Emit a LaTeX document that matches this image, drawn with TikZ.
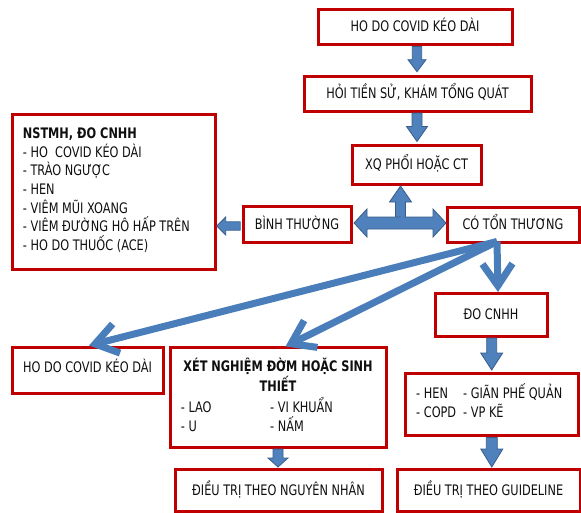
\documentclass[tikz,border=0pt]{standalone}
\usepackage{fontspec}
\setmainfont{DejaVu Sans}[FakeStretch=0.78]
\usetikzlibrary{calc,arrows.meta}
\definecolor{bred}{RGB}{192,0,0}
\definecolor{ablue}{RGB}{79,129,189}
\definecolor{adark}{RGB}{56,93,138}
\definecolor{lblue}{RGB}{74,126,187}
\definecolor{tcol}{RGB}{15,15,15}
\begin{document}
\begin{tikzpicture}[x=1pt,y=-1pt,
  every node/.style={font=\fontsize{14.5}{18.7}\selectfont, text=tcol},
  bfont/.style={font=\fontsize{14.5}{18.7}\selectfont\bfseries},
  box/.style={draw=bred, line width=3pt, fill=white, rectangle, inner sep=0pt,
    text height=10.5pt, text depth=0pt},
  txt/.style={inner sep=0pt, text height=10.5pt, text depth=0pt, anchor=west},
  downblk/.style n args={3}{draw=adark, fill=ablue, line width=0.8pt, to path={
    let \p1=(\tikztostart), \p2=(\tikztotarget) in
    (\x1-#1pt,\y1) -- (\x1+#1pt,\y1) -- (\x1+#1pt,\y2+#3pt) -- (\x1+#2pt,\y2+#3pt)
    -- (\x1,\y2) -- (\x1-#2pt,\y2+#3pt) -- (\x1-#1pt,\y2+#3pt) -- cycle}},
  leftblk/.style n args={3}{draw=adark, fill=ablue, line width=0.8pt, to path={
    let \p1=(\tikztostart), \p2=(\tikztotarget) in
    (\x1,\y1+#1pt) -- (\x1,\y1-#1pt) -- (\x2+#3pt,\y1-#1pt) -- (\x2+#3pt,\y1-#2pt)
    -- (\x2,\y1) -- (\x2+#3pt,\y1+#2pt) -- (\x2+#3pt,\y1+#1pt) -- cycle}},
  thk/.style={draw=lblue, line width=7pt,
    -{Straight Barb[length=22pt,width=30pt]}}
]
\useasboundingbox (0,0) rectangle (581,512);

% boxes
\node[box, minimum width=194pt, minimum height=35pt] (b1) at (415,26.5) {HO DO COVID KÉO DÀI};
\node[box, minimum width=227pt, minimum height=35pt] (b2) at (417.5,93.5) {HỎI TIỀN SỬ, KHÁM TỔNG QUÁT};
\node[box, minimum width=129pt, minimum height=39pt] (b3) at (416.5,164.5) {XQ PHỔI HOẶC CT};
\node[box, minimum width=108pt, minimum height=36pt] (binh) at (297,224.5) {BÌNH THƯỜNG};
\node[box, minimum width=132pt, minimum height=35pt] (co) at (513,224.5) {CÓ TỔN THƯƠNG};
\node[box, minimum width=203pt, minimum height=155pt] (nst) at (113.5,191.5) {};
\node[box, minimum width=151pt, minimum height=46pt] (hoc) at (87.5,370) {};
\node[box, minimum width=216pt, minimum height=100pt] (xet) at (278.5,397) {};
\node[box, minimum width=112pt, minimum height=43pt] (do) at (491,314.5) {ĐO CNHH};
\node[box, minimum width=173pt, minimum height=62pt] (hen) at (491.5,404) {};
\node[box, minimum width=207pt, minimum height=42pt] (ngn) at (278.5,490) {ĐIỀU TRỊ THEO NGUYÊN NHÂN};
\node[box, minimum width=183pt, minimum height=42pt] (gdl) at (488.5,490) {ĐIỀU TRỊ THEO GUIDELINE};

% texts inside boxes
\node[anchor=north west, align=left, inner sep=0pt] (nstxt) at (22.7,127.5)
  {\textbf{NSTMH, ĐO CNHH}\\- HO\ \ COVID KÉO DÀI\\- TRÀO NGƯỢC\\- HEN\\- VIÊM MŨI XOANG\\- VIÊM ĐƯỜNG HÔ HẤP TRÊN\\- HO DO THUỐC (ACE)};
\node[txt, anchor=center] (hoctx) at (87.5,367) {HO DO COVID KÉO DÀI};
\node[txt, bfont, anchor=center] (xt1) at (278,366.7) {XÉT NGHIỆM ĐỜM HOẶC SINH};
\node[txt, bfont, anchor=center] (xt2) at (278,386.7) {THIẾT};
\node[txt] (xt3) at (180.7,407) {- LAO};
\node[txt] (xt4) at (270,407) {- VI KHUẨN};
\node[txt] (xt5) at (180.7,426.7) {- U};
\node[txt] (xt6) at (270,426.7) {- NẤM};
\node[txt] (ht1) at (416,393) {- HEN};
\node[txt] (ht2) at (463,393) {- GIÃN PHẾ QUẢN};
\node[txt] (ht3) at (416,412.7) {- COPD};
\node[txt] (ht4) at (463,412.7) {- VP KẼ};

% block arrows
\draw[downblk={4.7}{9}{12}] ($(b1.south)+(2,1)$) to ($(b2.north)+(0,-2.8)$);
\draw[downblk={5}{10.5}{15}] ($(b2.south)+(-0.5,0.5)$) to ($(b3.north)+(0,-2)$);
\draw[downblk={5}{11}{17}] ($(do.south)+(0.7,0.5)$) to ($(hen.north)+(0,-1.5)$);
\draw[downblk={5.5}{11}{18}] ($(hen.south)+(0.3,1)$) to ($(gdl.north)+(0,-0.5)$);
\draw[downblk={5}{10}{9}] ($(xet.south)+(-0.5,0.5)$) to ($(ngn.north)+(0,-0.5)$);
\draw[leftblk={4.2}{9}{9}] ($(binh.west)+(-1.3,1.5)$) to ($(nst.east)+(0.2,0)$);

% T-shaped triple arrow
\draw[draw=adark, fill=ablue, line width=0.8pt]
  let \p1=($(binh.east)+(1.5,-1.5)$), \p2=($(co.west)+(0.5,0)$), \p3=($(b3.south)+(0,0.5)$) in
  (\x1,\y1) -- (\x1+13pt,\y1+14pt) -- (\x1+13pt,\y1+6pt) -- (400.5,\y1+6pt) -- (400.5-5,\y1+6pt)
  -- (400.5-5,\y3-16pt) -- (400.5-11,\y3-16pt) -- (400.5,\y3) -- (400.5+11,\y3-16pt)
  -- (400.5+5,\y3-16pt) -- (400.5+5,\y1+6pt) -- (\x2-13pt,\y1+6pt) -- (\x2-13pt,\y1+14pt)
  -- (\x2,\y1) -- (\x2-13pt,\y1-14pt) -- (\x2-13pt,\y1-6pt) -- (\x1+13pt,\y1-6pt)
  -- (\x1+13pt,\y1-14pt) -- cycle;

% thick line arrows
\coordinate (src) at ($(co.south west)+(51.5,-2)$);
\draw[thk] (src) -- ($(do.north)+(7,0.5)$);
\draw[thk] (src) -- ($(hoc.north)+(1.5,0)$);
\draw[thk] (src) -- ($(xet.north)+(7,1)$);
\end{tikzpicture}
\end{document}
